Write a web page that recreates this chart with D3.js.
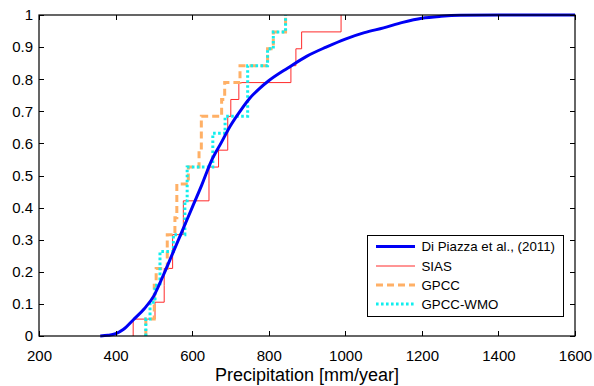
<!DOCTYPE html>
<html>
<head>
<meta charset="utf-8">
<script src="https://cdn.jsdelivr.net/npm/d3@7"></script>
<style>
  html, body { margin: 0; padding: 0; background: #fff; }
  svg { display: block; }
  text { font-family: "Liberation Sans", Arial, Helvetica, sans-serif; fill: #000; }
</style>
</head>
<body>
<svg id="chart" width="594" height="386"></svg>
<script>
// ---- data ----
const xTicks = [200, 400, 600, 800, 1000, 1200, 1400, 1600];
const xTickLabels = ["200", "400", "600", "800", "1000", "1200", "1400", "1600"];
const yTicks = [0, 0.1, 0.2, 0.3, 0.4, 0.5, 0.6, 0.7, 0.8, 0.9, 1];
const yTickLabels = ["0", "0.1", "0.2", "0.3", "0.4", "0.5", "0.6", "0.7", "0.8", "0.9", "1"];
const xLabel = "Precipitation [mm/year]";

// smooth CDF (Di Piazza et al., 2011): precipitation, cumulative probability
const diPiazzaX = [360, 380, 400, 420, 446, 475, 500, 525, 550, 575, 600, 625, 650, 675, 700, 725, 750, 775, 800, 850, 900, 950, 1000, 1050, 1100, 1150, 1200, 1250, 1300, 1400, 1600];
const diPiazzaY = [0, 0.002, 0.007, 0.02, 0.05, 0.085, 0.125, 0.19, 0.26, 0.33, 0.40, 0.47, 0.545, 0.60, 0.655, 0.70, 0.74, 0.77, 0.795, 0.835, 0.872, 0.90, 0.925, 0.945, 0.96, 0.977, 0.99, 0.996, 0.999, 1, 1];

// station samples (empirical CDFs)
const sias = [446, 503, 527, 527, 549, 549, 577, 577, 644, 644, 669, 693, 693, 701, 722, 858, 871, 886, 989];
const gpcc = [479, 501, 501, 506, 535, 535, 555, 560, 560, 590, 618, 624, 624, 677, 685, 725, 797, 812, 844];
const gpccWmo = [479, 490, 503, 516, 516, 551, 581, 581, 587, 587, 654, 654, 686, 745, 745, 745, 797, 812, 844];

const seriesNames = ["Di Piazza et al., (2011)", "SIAS", "GPCC", "GPCC-WMO"];

// ---- chart ----
const svg = d3.select("#chart");
const L = 39, R = 575, T = 15, B = 336;
const x = d3.scaleLinear().domain([200, 1600]).range([L, R]);
const y = d3.scaleLinear().domain([0, 1]).range([B, T]);

const styles = [
  { color: "#0000f5", width: 3, dash: null },
  { color: "#ff2a2a", width: 1, dash: null },
  { color: "#ffb066", width: 3, dash: "7,4" },
  { color: "#10eeee", width: 3, dash: "2.6,2.4" }
];

function ecdfPoints(vals) {
  const s = vals.slice().sort((a, b) => a - b);
  const n = s.length;
  const pts = [[s[0], 0]];
  s.forEach((v, i) => pts.push([v, (i + 1) / n]));
  return pts;
}
const stepLine = d3.line().x(d => x(d[0])).y(d => y(d[1])).curve(d3.curveStepAfter);
const smoothLine = d3.line().x(d => x(d[0])).y(d => y(d[1])).curve(d3.curveMonotoneX);

const plot = svg.append("g");
[sias, gpcc, gpccWmo].forEach((vals, i) => {
  const st = styles[i + 1];
  plot.append("path")
    .attr("d", stepLine(ecdfPoints(vals)))
    .attr("fill", "none")
    .attr("stroke", st.color)
    .attr("stroke-width", st.width)
    .attr("stroke-dasharray", st.dash);
});
plot.append("path")
  .attr("d", smoothLine(diPiazzaX.map((v, i) => [v, diPiazzaY[i]])))
  .attr("fill", "none")
  .attr("stroke", styles[0].color)
  .attr("stroke-width", styles[0].width);

// axes (MATLAB style: box, inward ticks)
const fmtX = (d) => xTickLabels[xTicks.indexOf(d)];
const fmtY = (d) => yTickLabels[yTicks.indexOf(d)];

const axB = svg.append("g").attr("transform", `translate(0,${B})`)
  .call(d3.axisBottom(x).tickValues(xTicks).tickFormat(fmtX).tickSize(-5).tickPadding(14));
const axT = svg.append("g").attr("transform", `translate(0,${T})`)
  .call(d3.axisTop(x).tickValues(xTicks).tickFormat("").tickSize(-5));
const axL = svg.append("g").attr("transform", `translate(${L},0)`)
  .call(d3.axisLeft(y).tickValues(yTicks).tickFormat(fmtY).tickSize(-5).tickPadding(6));
const axR = svg.append("g").attr("transform", `translate(${R},0)`)
  .call(d3.axisRight(y).tickValues(yTicks).tickFormat("").tickSize(-5));

[axB, axT, axL, axR].forEach(g => {
  g.select(".domain").remove();
  g.selectAll(".tick line").attr("stroke", "#000").attr("stroke-width", 1).attr("shape-rendering", "crispEdges");
  g.selectAll("text").attr("font-size", 15).attr("font-family", '"Liberation Sans", Arial, Helvetica, sans-serif');
});

svg.append("rect")
  .attr("x", L).attr("y", T).attr("width", R - L).attr("height", B - T)
  .attr("fill", "none").attr("stroke", "#000").attr("stroke-width", 1.2);

svg.append("text")
  .attr("x", (L + R) / 2).attr("y", 381)
  .attr("text-anchor", "middle")
  .attr("font-size", 18)
  .text(xLabel);

// legend
const lg = svg.append("g");
lg.append("rect").attr("x", 367.5).attr("y", 235.5).attr("width", 196).attr("height", 81)
  .attr("fill", "#fff").attr("stroke", "#000").attr("stroke-width", 1);
const rowY = [246.5, 266, 285, 304];
seriesNames.forEach((name, i) => {
  const st = styles[i];
  lg.append("line")
    .attr("x1", 376).attr("x2", 415).attr("y1", rowY[i]).attr("y2", rowY[i])
    .attr("stroke", st.color).attr("stroke-width", st.width)
    .attr("stroke-dasharray", st.dash);
  lg.append("text").attr("x", 421.5).attr("y", rowY[i] + 4.8)
    .attr("font-size", 13.3).text(name);
});
</script>
</body>
</html>
